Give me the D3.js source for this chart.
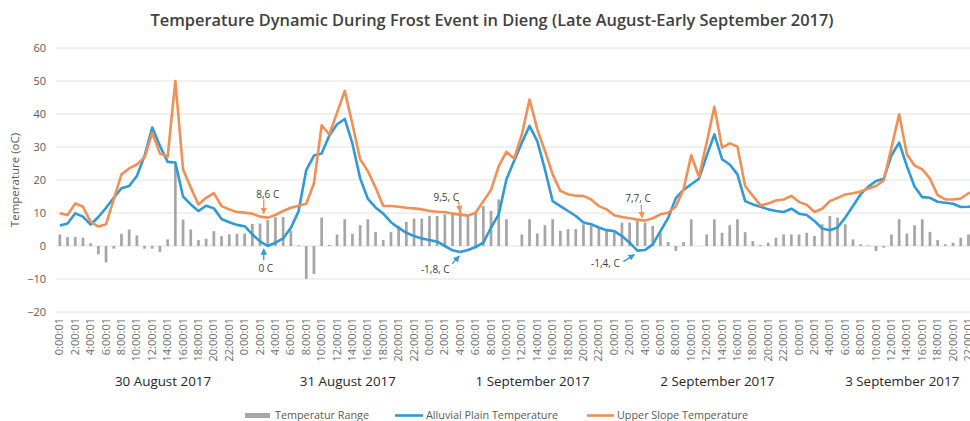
<!DOCTYPE html>
<html><head><meta charset="utf-8">
<script src="https://cdn.jsdelivr.net/npm/d3@7"></script>
<style>
html,body{margin:0;padding:0;background:#fff;overflow:hidden;}
svg{display:block;font-family:"Open Sans",sans-serif;}
</style></head>
<body><svg id="chart" width="970" height="421"></svg>
<script>
// ---------------- DATA ----------------
const days = ["30 August 2017","31 August 2017","1 September 2017","2 September 2017","3 September 2017"];
const hourLabels = ["0:00:01","2:00:01","4:00:01","6:00:01","8:00:01","10:00:01","12:00:01","14:00:01","16:00:01","18:00:01","20:00:01","22:00:01"];
const yTicks = [-20,-10,0,10,20,30,40,50,60];

const alluvial = [
 6.2,6.8,9.9,8.9,6.5,8.8,11.6,14.6,17.5,18.2,21.2,27.3,35.9,30.3,25.5,25.3,15,12.6,10.6,12.2,11.4,8.2,7.2,6.4,
 6.0,3.5,1.4,0,1.0,2.3,5.5,10.5,23,27.4,28,33.5,36.9,38.5,31,20.5,14.3,11.7,9.8,7.2,5.5,4.0,3.0,2.3,
 1.8,1.3,0,-1.3,-1.8,-1.2,-0.3,1,5.6,9.6,20.2,25.8,31.3,36.4,31.8,23.2,13.6,12.1,10.6,9.1,7.1,6.6,5.6,4.8,
 4.5,3,1,-1.4,-1.2,0.5,4.5,8.5,14.5,17,18.7,20.4,27.3,33.8,26.3,24.7,21.7,13.6,12.6,11.9,11.1,10.6,10.3,11.3,
 9.8,9.4,7.6,5.3,4.8,5.6,8.6,12.1,15.7,18,19.7,20.4,27.5,31.3,24.2,18,14.8,14.6,13.4,13.1,12.8,11.8,11.9,12.1
];
const upper = [
 9.9,9.4,12.9,11.9,7.3,5.9,6.6,14.1,21.7,23.5,24.7,26.8,34.3,28,27.1,50,23.2,17.7,12.6,14.6,16,12.1,11.1,10.3,
 10.1,9.8,8.9,8.6,9.4,10.6,11.6,12.2,12.8,19,36.6,33.8,40.4,47,36.9,26.3,22.7,17.7,12.1,12.1,11.9,11.6,11.4,11.1,
 10.6,10.4,10.3,9.8,9.5,9.2,10.1,13.6,17,24.2,28.5,26.5,33.8,44.4,35.4,28.8,21.7,16.7,15.7,15.2,15.2,14.1,12.1,11.1,
 9.3,8.8,8.4,8.0,7.7,8.4,9.6,10.1,12,17.2,27.5,21,31.3,42.2,29.8,31.1,30.1,18.2,15.2,12.3,12.9,13.8,14.1,15.2,
 13.3,12.5,10.3,11.3,13.6,14.6,15.6,16,16.5,17.4,18.2,19.9,29.8,39.9,27.8,24.4,23.2,20.4,15.4,14.1,14.1,14.4,16,16.7
];
const range = [
 3.5,2.7,2.7,2.5,0.8,-2.5,-5,-0.8,3.7,5,3.2,-0.8,-0.8,-1.8,2,24.7,8,5,1.8,2.2,4.5,3,3.5,3.7,
 3.8,6.7,6.8,7.9,8.7,8.8,4.7,0.2,-10,-8.5,8.6,0.3,3.5,8.1,3.7,6.3,8.1,4.2,1.8,4.2,6.1,7.3,8.3,8.3,
 9.1,9.1,9.6,10.1,10.6,9.1,9.9,12.1,10.6,14.1,8.1,0,3.5,8.1,3.8,6.3,8.1,4.6,5.1,5.1,6.6,6.1,5.6,4.6,
 4,7.1,7.1,7.6,7.1,6.1,4,1.2,-1.5,1.2,8.1,0,3.5,8.1,4,6.3,8.1,4.2,1.5,0.3,1,2.5,3.5,3.5,
 3.5,4,3,6.6,9.1,8.6,6.6,2,0.5,0.2,-1.5,-0.5,3.5,8.1,3.8,6.3,8.1,4.3,1.8,0.5,1,2.5,3.5,4.6
];
const annotations = [
 {i:27, series:"upper", text:"8,6 C"},
 {i:27, series:"alluvial", text:"0 C"},
 {i:52, series:"upper", text:"9,5, C"},
 {i:52, series:"alluvial", text:"-1,8, C"},
 {i:76, series:"upper", text:"7,7, C"},
 {i:75, series:"alluvial", text:"-1,4, C"}
];
const seriesNames = ["Temperatur Range","Alluvial Plain Temperature","Upper Slope Temperature"];

// ---------------- LAYOUT ----------------
const BLUE = "#2e9ad8", ORANGE = "#f28f55", GRAY = "#a6a6a6";
const hoursPerDay = 24;
const n = days.length * hoursPerDay;
const idx = d3.range(n);
const svg = d3.select("#chart");

const x = d3.scaleBand().domain(idx).range([56, 56 + 7.7 * n]).padding(0);
const y = d3.scaleLinear().domain([-20, 60]).range([312, 48]);
const cx = i => x(i) + x.bandwidth() / 2;

// title
svg.append("text").attr("x", 492).attr("y", 26).attr("text-anchor", "middle")
  .attr("font-size", 16.4).attr("font-weight", 600).attr("fill", "#404040")
  .text("Temperature Dynamic During Frost Event in Dieng (Late August-Early September 2017)");

// gridlines
svg.append("g").selectAll("line").data(yTicks).join("line")
  .attr("x1", 56).attr("x2", 56 + 7.7 * n)
  .attr("y1", d => y(d)).attr("y2", d => y(d))
  .attr("stroke", "#e2e2e2").attr("stroke-width", 1);

// y axis
const yAxis = svg.append("g").attr("transform", "translate(49,0)")
  .call(d3.axisLeft(y).tickValues(yTicks).tickSize(0).tickPadding(3).tickFormat(d3.format("d")));
yAxis.select(".domain").remove();
yAxis.selectAll("text").attr("font-size", 11).attr("fill", "#595959").attr("font-family", "Open Sans, sans-serif");

svg.append("text").attr("transform", "translate(19,180) rotate(-90)").attr("text-anchor", "middle")
  .attr("font-size", 11.5).attr("fill", "#595959").text("Temperature (oC)");

// x axis (hour labels every 2 hours)
const xAxis = svg.append("g").attr("transform", "translate(0,314)")
  .call(d3.axisBottom(x).tickSize(0).tickPadding(4)
    .tickValues(idx.filter(i => i % 2 === 0))
    .tickFormat(i => hourLabels[(i % hoursPerDay) / 2]));
xAxis.select(".domain").remove();
xAxis.selectAll("text")
  .attr("transform", "rotate(-90)").attr("text-anchor", "end")
  .attr("x", -4).attr("y", 0).attr("dy", "0.32em")
  .attr("font-size", 11).attr("fill", "#6a6a6a").attr("font-family", "Open Sans, sans-serif");

// day labels
svg.append("g").selectAll("text").data(days).join("text")
  .attr("x", (d, k) => cx(k * hoursPerDay + 13.4 | 0) + (13.4 % 1) * x.bandwidth())
  .attr("y", 386).attr("text-anchor", "middle")
  .attr("font-size", 13.4).attr("fill", "#262626").text(d => d);

// bars
const barW = 2.7;
svg.append("g").selectAll("rect").data(range).join("rect")
  .attr("x", (d, i) => cx(i) - barW / 2)
  .attr("y", d => y(Math.max(0, d)))
  .attr("width", barW)
  .attr("height", d => Math.abs(y(d) - y(0)))
  .attr("fill", GRAY);

// lines
const line = d3.line().x((d, i) => cx(i)).y(d => y(d));
svg.append("path").datum(alluvial).attr("d", line).attr("fill", "none")
  .attr("stroke", BLUE).attr("stroke-width", 2.6).attr("stroke-linejoin", "round");
svg.append("path").datum(upper).attr("d", line).attr("fill", "none")
  .attr("stroke", ORANGE).attr("stroke-width", 2.6).attr("stroke-linejoin", "round");

// arrow markers
const defs = svg.append("defs");
[["arrO", ORANGE], ["arrB", BLUE]].forEach(([id, c]) => {
  defs.append("marker").attr("id", id).attr("viewBox", "0 0 10 10").attr("refX", 9).attr("refY", 5)
    .attr("markerWidth", 5).attr("markerHeight", 5).attr("orient", "auto")
    .append("path").attr("d", "M0,0L10,5L0,10Z").attr("fill", c);
});

// annotation layout offsets (relative to the annotated point)
const annLayout = [
  {tx: 0, ty: -20, ax1: -4, ay1: -18, ax2: -4, ay2: -4},
  {tx: -2, ty: 26, ax1: -4, ay1: 14, ax2: -4, ay2: 3},
  {tx: -14, ty: -14, ax1: -2, ay1: -14, ax2: 0, ay2: -3},
  {tx: -25, ty: 21, ax1: -8, ay1: 12, ax2: -1, ay2: 4},
  {tx: -7, ty: -19, ax1: -4, ay1: -16, ax2: -3, ay2: -3},
  {tx: -32, ty: 16, ax1: -14, ay1: 11, ax2: -3, ay2: 4}
];
const ag = svg.append("g");
annotations.forEach((a, k) => {
  const L = annLayout[k];
  const vals = a.series === "upper" ? upper : alluvial;
  const px = cx(a.i), py = y(vals[a.i]);
  const col = a.series === "upper" ? ORANGE : BLUE;
  ag.append("line").attr("x1", px + L.ax1).attr("y1", py + L.ay1)
    .attr("x2", px + L.ax2).attr("y2", py + L.ay2)
    .attr("stroke", col).attr("stroke-width", 1.3)
    .attr("marker-end", `url(#${a.series === "upper" ? "arrO" : "arrB"})`);
  ag.append("text").attr("x", px + L.tx).attr("y", py + L.ty).attr("text-anchor", "middle")
    .attr("font-size", 10).attr("fill", "#404040").text(a.text);
});

// legend
const lg = svg.append("g").attr("font-size", 10.8).attr("fill", "#595959");
lg.append("rect").attr("x", 245).attr("y", 413).attr("width", 25).attr("height", 5).attr("fill", GRAY);
lg.append("text").attr("x", 275).attr("y", 419).text(seriesNames[0]);
lg.append("line").attr("x1", 395).attr("x2", 423).attr("y1", 415.5).attr("y2", 415.5).attr("stroke", BLUE).attr("stroke-width", 2.6);
lg.append("text").attr("x", 426).attr("y", 419).text(seriesNames[1]);
lg.append("line").attr("x1", 587).attr("x2", 614).attr("y1", 415.5).attr("y2", 415.5).attr("stroke", ORANGE).attr("stroke-width", 2.6);
lg.append("text").attr("x", 617).attr("y", 419).text(seriesNames[2]);
</script></body></html>
